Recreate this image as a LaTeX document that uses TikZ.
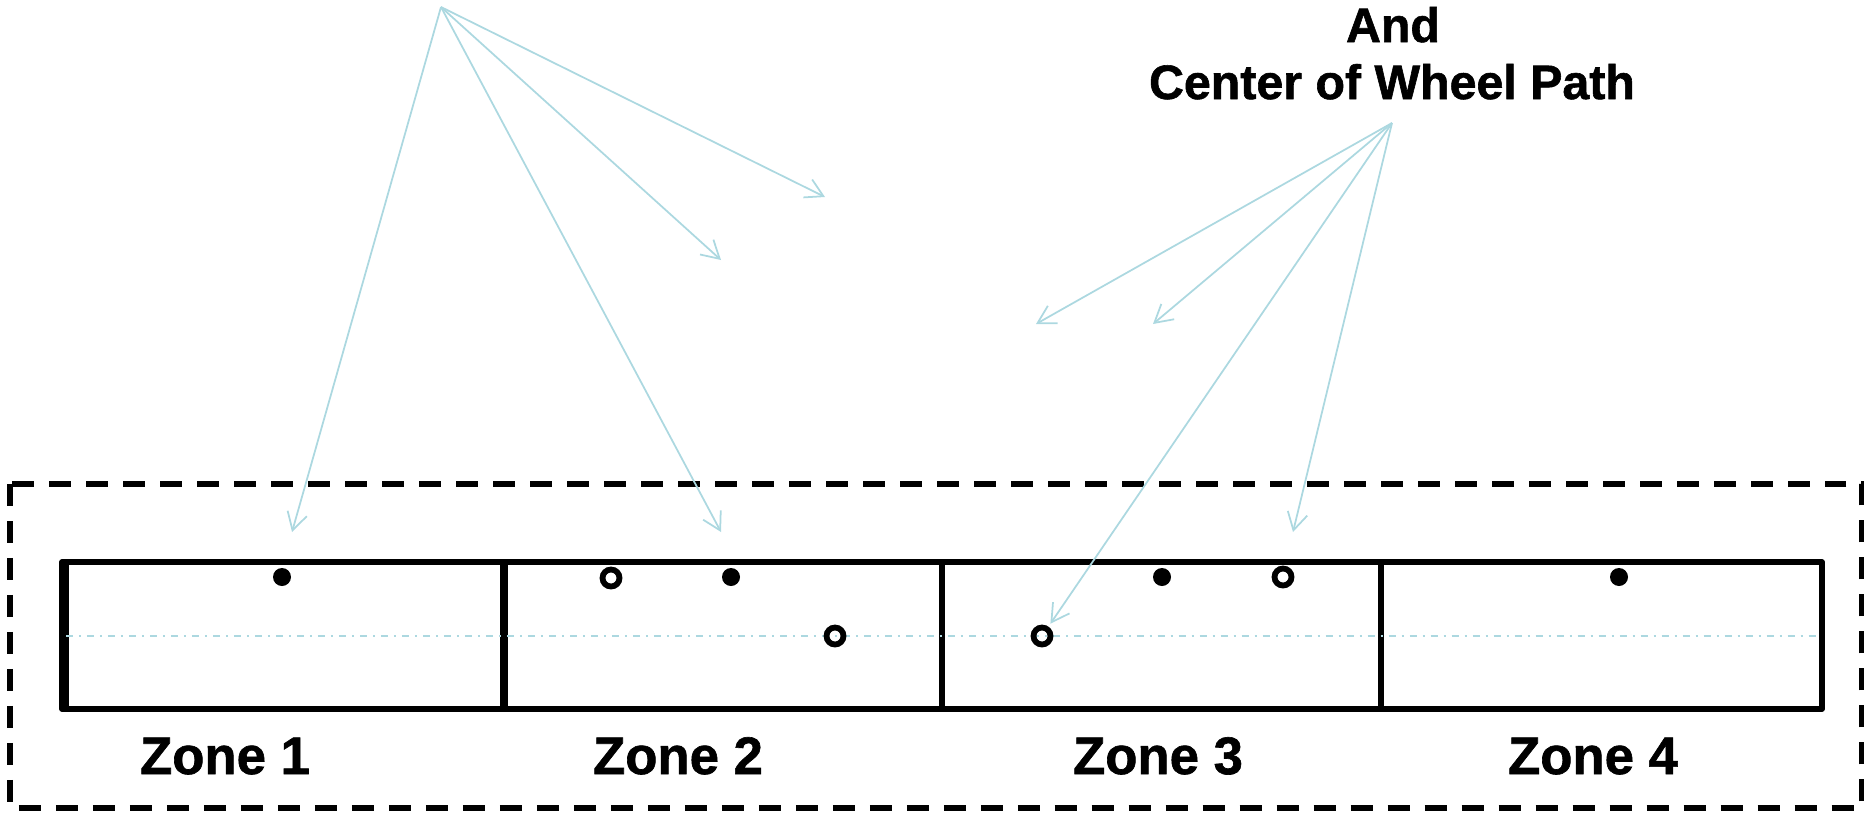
\documentclass[tikz,border=0pt]{standalone}
\usepackage{fontspec}
\setmainfont[BoldFeatures={FakeBold=1.2}]{Liberation Sans}
\usetikzlibrary{arrows.meta}
\definecolor{leaderblue}{RGB}{172,216,224}
\tikzstyle{leader} = [leaderblue, line width=1pt, -{Straight Barb[length=3.5mm,width=4mm]}]
\tikzstyle{zonebox} = [line width=3.2pt, line join=round]
\tikzstyle{frame} = [line width=3pt, dash pattern=on 0.44cm off 0.3cm]
\tikzstyle{pathline} = [leaderblue, line width=1.1pt, dash pattern=on 0.14cm off 0.12cm on 0.04cm off 0.12cm]
\tikzstyle{solid pt} = [circle, fill=black, inner sep=0pt, minimum size=3.6mm]
\tikzstyle{hollow pt} = [circle, draw=black, line width=3.3pt, inner sep=0pt, minimum size=3.4mm]
\tikzstyle{zone label} = [font=\bfseries\fontsize{30}{36}\selectfont, anchor=base]
\tikzstyle{top label} = [font=\bfseries\fontsize{27.5}{33}\selectfont, anchor=base]

\begin{document}
\begin{tikzpicture}[x=0.02cm, y=-0.02cm]
        \useasboundingbox (0,0) rectangle (1864,812);

        \draw[frame] (10,484) rectangle (1862,808);

        \draw[zonebox] (62,562) rectangle (1822,709);
        \draw[line width=5.5pt] (64,562) -- (64,709);
        \draw[line width=4pt] (504,562) -- (504,709);
        \draw[line width=3pt] (942,562) -- (942,709);
        \draw[line width=3pt] (1381,562) -- (1381,709);

        \draw[pathline] (66,636) -- (1820,636);

        \node[solid pt] (z1a) at (282,577) {};
        \node[hollow pt] (z2a) at (611,578) {};
        \node[solid pt] (z2b) at (731,577) {};
        \node[hollow pt] (z2c) at (835,636) {};
        \node[hollow pt] (z3a) at (1042,636) {};
        \node[solid pt] (z3b) at (1162,577) {};
        \node[hollow pt] (z3c) at (1283,577) {};
        \node[solid pt] (z4a) at (1619,577) {};

        \node[zone label] (zone1) at (225,774) {Zone 1};
        \node[zone label] (zone2) at (678,774) {Zone 2};
        \node[zone label] (zone3) at (1158,774) {Zone 3};
        \node[zone label] (zone4) at (1593,774) {Zone 4};

        \node[top label] (andlbl) at (1393,42) {And};
        \node[top label] (pathlbl) at (1392,99) {Center of Wheel Path};

        % leader sources and free ends
        \coordinate (edgesrc) at (441,7);
        \coordinate (wpsrc) at (1392,123);
        \coordinate (t1) at (292,532);
        \coordinate (t2) at (721,532);
        \coordinate (t3) at (721,260);
        \coordinate (t4) at (825,197);
        \coordinate (t5) at (1036,324);
        \coordinate (t6) at (1153,324);
        \coordinate (t7) at (1293,532);

        \draw[leader] (edgesrc) -- (t1);
        \draw[leader] (edgesrc) -- (t2);
        \draw[leader] (edgesrc) -- (t3);
        \draw[leader] (edgesrc) -- (t4);
        \draw[leader] (wpsrc) -- (t5);
        \draw[leader] (wpsrc) -- (t6);
        \draw[leader, shorten >=2pt] (wpsrc) -- (z3a);
        \draw[leader] (wpsrc) -- (t7);

    \end{tikzpicture}
\end{document}
